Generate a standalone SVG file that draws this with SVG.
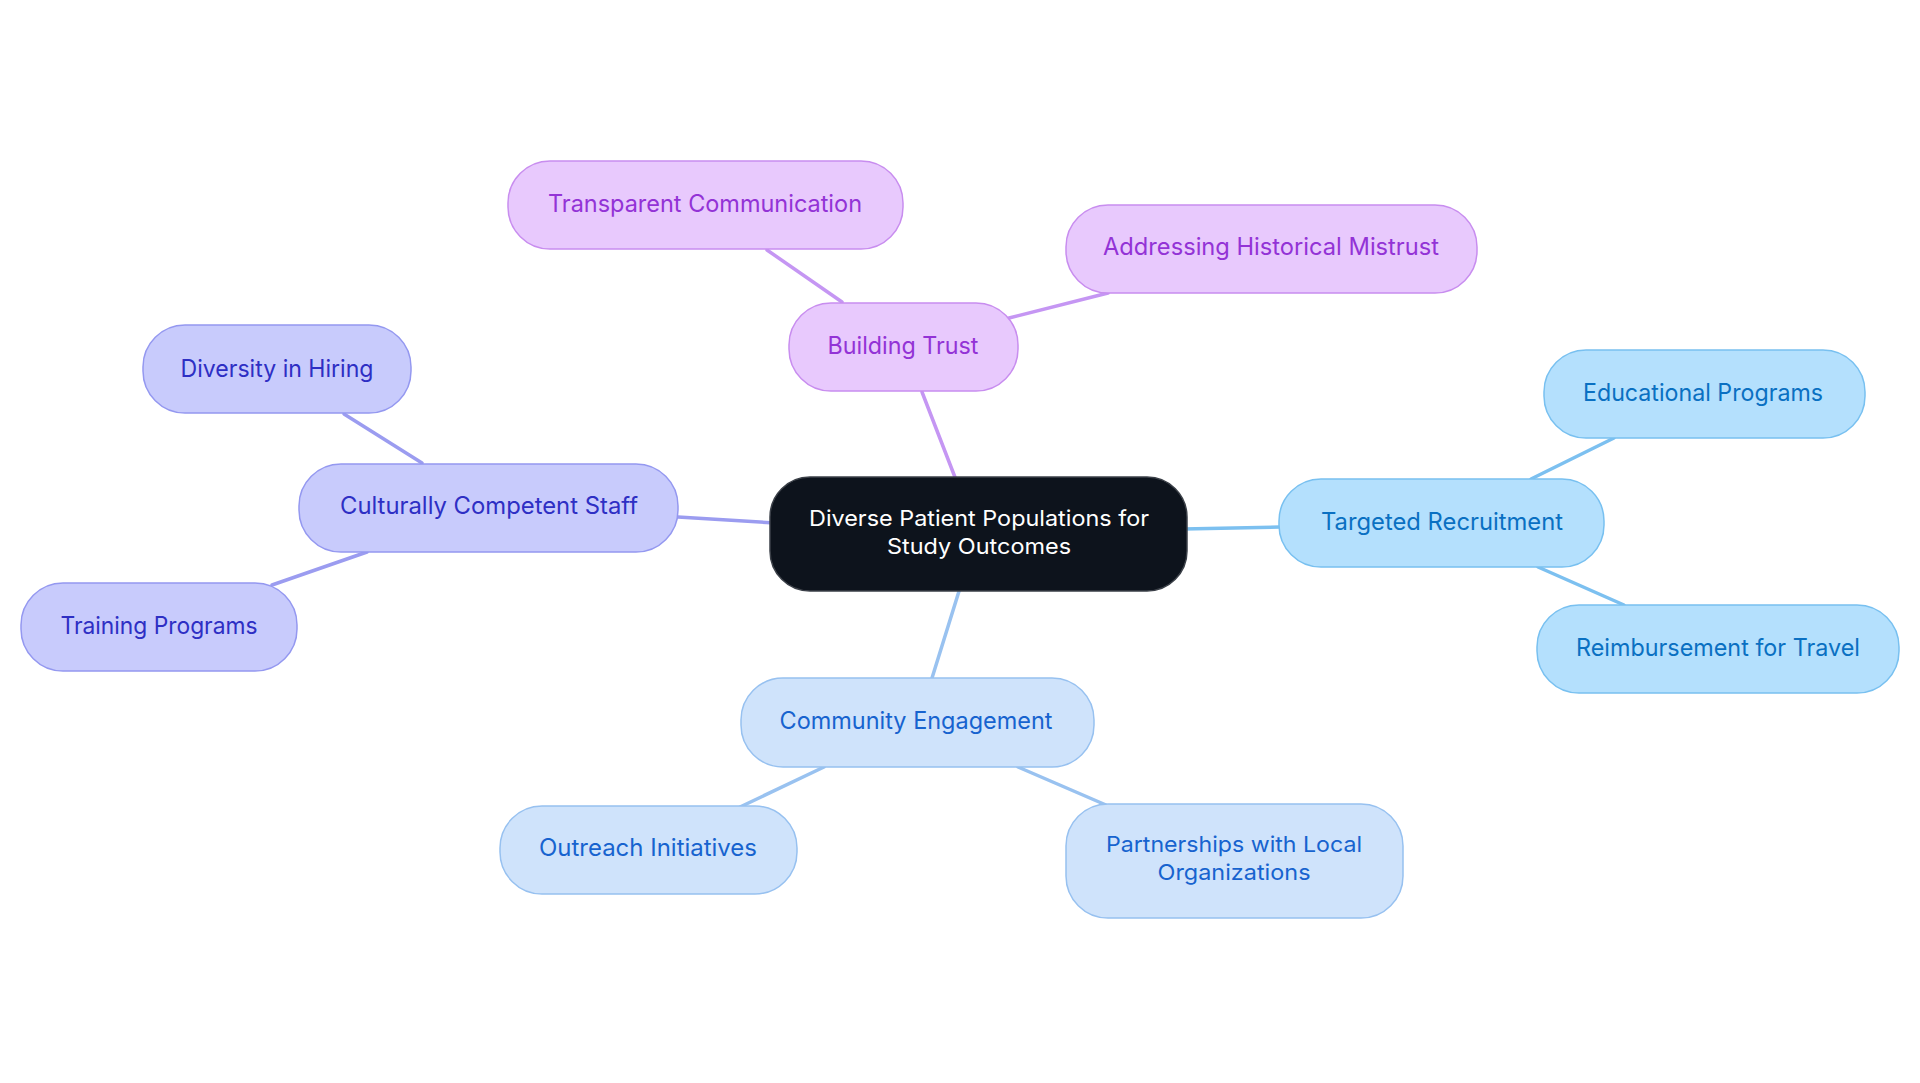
<svg xmlns="http://www.w3.org/2000/svg" width="1920" height="1083" viewBox="0 0 1920 1083">
<style>
text{font-family:Inter,"Noto Sans","Liberation Sans",sans-serif;font-size:24px;text-anchor:middle}
.c line{stroke-width:3.5;stroke-linecap:round}
.root rect{fill:#0d131c;stroke:#3b4048;stroke-width:1.5}
.root text{fill:#ffffff;font-size:22px}
.pur rect{fill:#e8c9fd;stroke:#c88def;stroke-width:1.5}
.pur text{fill:#9333d6}
.ind rect{fill:#c8cbfc;stroke:#9498f0;stroke-width:1.5}
.ind text{fill:#2e2fc4}
.sky rect{fill:#b4e0fd;stroke:#78c0f0;stroke-width:1.5}
.sky text{fill:#0a70c2}
.pal rect{fill:#cfe3fb;stroke:#97c1f0;stroke-width:1.5}
.pal text{fill:#1763cf}
.two{font-size:22px}
</style>
<rect width="1920" height="1083" fill="#ffffff"/>
<g id="connectors" class="c">
<line x1="958" y1="485" x2="922" y2="392" stroke="#c596f3"/>
<line x1="842" y1="302" x2="767" y2="250" stroke="#c596f3"/>
<line x1="1009" y1="318" x2="1108" y2="293" stroke="#c596f3"/>
<line x1="775" y1="523" x2="678" y2="517" stroke="#9b9cf0"/>
<line x1="422" y1="463" x2="344" y2="414" stroke="#9b9cf0"/>
<line x1="367" y1="552" x2="272" y2="585" stroke="#9b9cf0"/>
<line x1="1183" y1="529" x2="1280" y2="527" stroke="#7cc0f0"/>
<line x1="1531" y1="479" x2="1614" y2="438" stroke="#7cc0f0"/>
<line x1="1538" y1="567" x2="1624" y2="605" stroke="#7cc0f0"/>
<line x1="960" y1="588" x2="932" y2="678" stroke="#99c2f0"/>
<line x1="824" y1="767" x2="740" y2="807" stroke="#99c2f0"/>
<line x1="1018" y1="767" x2="1106" y2="805" stroke="#99c2f0"/>
</g>
<g id="root" class="root">
<rect x="770" y="477" width="417" height="114" rx="40"/>
<text x="979" y="526" textLength="340" lengthAdjust="spacingAndGlyphs">Diverse Patient Populations for</text>
<text x="979" y="554" textLength="184" lengthAdjust="spacingAndGlyphs">Study Outcomes</text>
</g>
<g id="building-trust" class="pur">
<rect x="789" y="303" width="229" height="88" rx="42"/>
<text x="903" y="354" textLength="151" lengthAdjust="spacingAndGlyphs">Building Trust</text>
</g>
<g id="transparent-communication" class="pur">
<rect x="508" y="161" width="395" height="88" rx="42"/>
<text x="705" y="212" textLength="314" lengthAdjust="spacingAndGlyphs">Transparent Communication</text>
</g>
<g id="addressing-historical-mistrust" class="pur">
<rect x="1066" y="205" width="411" height="88" rx="42"/>
<text x="1271" y="255" textLength="336" lengthAdjust="spacingAndGlyphs">Addressing Historical Mistrust</text>
</g>
<g id="culturally-competent-staff" class="ind">
<rect x="299" y="464" width="379" height="88" rx="42"/>
<text x="489" y="514" textLength="298" lengthAdjust="spacingAndGlyphs">Culturally Competent Staff</text>
</g>
<g id="diversity-in-hiring" class="ind">
<rect x="143" y="325" width="268" height="88" rx="42"/>
<text x="277" y="377" textLength="193" lengthAdjust="spacingAndGlyphs">Diversity in Hiring</text>
</g>
<g id="training-programs" class="ind">
<rect x="21" y="583" width="276" height="88" rx="42"/>
<text x="159" y="634" textLength="197" lengthAdjust="spacingAndGlyphs">Training Programs</text>
</g>
<g id="targeted-recruitment" class="sky">
<rect x="1279" y="479" width="325" height="88" rx="42"/>
<text x="1442" y="530" textLength="242" lengthAdjust="spacingAndGlyphs">Targeted Recruitment</text>
</g>
<g id="educational-programs" class="sky">
<rect x="1544" y="350" width="321" height="88" rx="42"/>
<text x="1703" y="401" textLength="240" lengthAdjust="spacingAndGlyphs">Educational Programs</text>
</g>
<g id="reimbursement-for-travel" class="sky">
<rect x="1537" y="605" width="362" height="88" rx="42"/>
<text x="1718" y="656" textLength="284" lengthAdjust="spacingAndGlyphs">Reimbursement for Travel</text>
</g>
<g id="community-engagement" class="pal">
<rect x="741" y="678" width="353" height="89" rx="42"/>
<text x="916" y="729" textLength="273" lengthAdjust="spacingAndGlyphs">Community Engagement</text>
</g>
<g id="outreach-initiatives" class="pal">
<rect x="500" y="806" width="297" height="88" rx="42"/>
<text x="648" y="856" textLength="218" lengthAdjust="spacingAndGlyphs">Outreach Initiatives</text>
</g>
<g id="partnerships-with-local-organizations" class="pal">
<rect x="1066" y="804" width="337" height="114" rx="42"/>
<text class="two" x="1234" y="852" textLength="256" lengthAdjust="spacingAndGlyphs">Partnerships with Local</text>
<text class="two" x="1234" y="880" textLength="153" lengthAdjust="spacingAndGlyphs">Organizations</text>
</g>
</svg>
